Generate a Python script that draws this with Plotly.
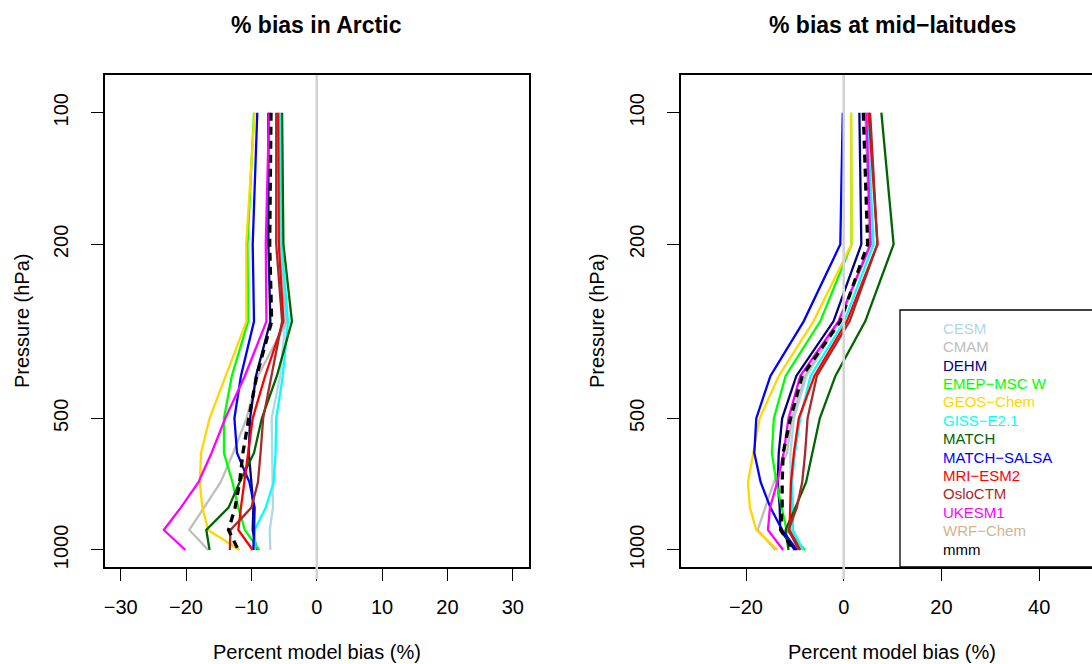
import plotly.graph_objects as go

# ---------------- data ----------------
pressure = [100, 200, 300, 400, 500, 600, 700, 800, 900, 1000]

models = ["CESM", "CMAM", "DEHM", "EMEP−MSC W", "GEOS−Chem", "GISS−E2.1", "MATCH",
          "MATCH−SALSA", "MRI−ESM2", "OsloCTM", "UKESM1", "WRF−Chem", "mmm"]
colors = ["#ADD8E6", "#BEBEBE", "#000080", "#00FF00", "#FFD700", "#00FFFF", "#006400",
          "#0000FF", "#FF0000", "#A52A2A", "#FF00FF", "#D2B48C", "#000000"]

# % bias in Arctic (one list per model, at the pressure levels)
arctic_cesm = [-5.8, -5.6, -4.8, -5.6, -6.9, -6.8, -6.7, -6.7, -7.2, -7.1]
arctic_cmam = [-5.8, -5.5, -4.6, -9.0, -10.75, -12.8, -14.7, -17.3, -19.5, -16.6]
arctic_dehm = [-7.4, -7.4, -7.1, -9.3, -10.2, -10.4, -10.0, -9.7, -9.8, -9.2]
arctic_emep = [-9.6, -10.6, -10.5, -13.0, -14.2, -14.2, -12.9, -12.0, -11.0, -8.8]
arctic_geos = [-9.5, -10.8, -10.75, -13.9, -16.4, -17.7, -17.9, -17.5, -16.6, -11.8]
arctic_giss = [-5.5, -5.4, -4.4, -5.2, -6.2, -6.3, -6.6, -7.8, -9.5, -9.4]
arctic_match = [-5.3, -5.1, -3.8, -6.1, -8.4, -9.6, -11.8, -13.5, -16.9, -16.4]
arctic_salsa = [-9.1, -9.8, -9.6, -11.6, -12.6, -12.2, -10.3, -9.5, -9.6, -9.7]
arctic_mri = [-5.9, -5.8, -5.1, -7.9, -9.8, -10.5, -11.2, -11.6, -12.0, -9.8]
arctic_oslo = [-6.2, -6.2, -5.3, -6.9, -8.2, -8.6, -9.0, -10.0, -13.2, -13.3]
arctic_ukesm = [-7.3, -7.8, -7.7, -11.0, -14.0, -16.1, -18.1, -20.8, -23.4, -20.1]
arctic_wrf = [None] * 10
arctic_mmm = [-7.0, -7.2, -6.9, -9.2, -10.4, -11.3, -11.8, -12.5, -13.5, -12.0]

# % bias at mid-latitudes
mid_cesm = [4.5, 5.5, -0.8, -7.6, -10.2, -10.9, -10.9, -10.7, -10.6, -8.6]
mid_cmam = [4.4, 5.3, -0.9, -7.9, -10.6, -11.6, -14.3, -16.0, -17.6, -14.0]
mid_dehm = [3.2, 3.6, -2.1, -9.7, -12.6, -13.3, -13.5, -13.1, -13.0, -10.0]
mid_emep = [1.5, 1.6, -4.8, -11.9, -14.3, -14.7, -13.8, -12.6, -11.7, -7.9]
mid_geos = [1.5, 1.6, -6.2, -13.3, -17.2, -18.5, -19.6, -19.2, -17.9, -13.5]
mid_giss = [4.8, 6.1, 0.1, -6.8, -8.9, -10.0, -10.6, -10.4, -10.4, -8.3]
mid_match = [7.7, 10.2, 4.4, -1.7, -4.9, -6.5, -7.7, -9.9, -11.9, -11.3]
mid_salsa = [-0.2, -0.7, -8.2, -15.0, -17.9, -18.3, -17.0, -15.0, -12.6, -9.6]
mid_mri = [5.1, 6.9, 0.65, -6.0, -9.2, -10.2, -10.8, -10.9, -11.1, -8.9]
mid_oslo = [5.4, 6.9, 1.2, -5.5, -7.4, -7.9, -8.5, -9.6, -11.3, -9.2]
mid_ukesm = [4.6, 5.5, -1.1, -8.9, -11.3, -12.3, -13.6, -15.1, -15.5, -12.4]
mid_wrf = [None] * 10
mid_mmm = [4.0, 4.9, -0.7, -8.5, -10.9, -12.4, -12.6, -12.6, -12.9, -10.3]

arctic = [arctic_cesm, arctic_cmam, arctic_dehm, arctic_emep, arctic_geos, arctic_giss,
          arctic_match, arctic_salsa, arctic_mri, arctic_oslo, arctic_ukesm, arctic_wrf, arctic_mmm]
midlat = [mid_cesm, mid_cmam, mid_dehm, mid_emep, mid_geos, mid_giss,
          mid_match, mid_salsa, mid_mri, mid_oslo, mid_ukesm, mid_wrf, mid_mmm]

x_ticks_left = [-30, -20, -10, 0, 10, 20, 30]
x_ticks_right = [-20, 0, 20, 40, 60]
y_ticks = [100, 200, 500, 1000]

# ---------------- figure ----------------
FONT = "Liberation Sans, Arial, Helvetica, sans-serif"
W, H = 1092, 664
ML, MR, MT, MB = 105, 0, 75, 97
PW, PH = W - ML - MR, H - MT - MB


def px_x(px):
    return (px - ML) / PW


def px_y(py):
    return (H - MB - py) / PH


fig = go.Figure()

for name, col, xs_a, xs_m in zip(models, colors, arctic, midlat):
    is_mmm = name == "mmm"
    line = dict(color=col, width=3.3 if is_mmm else 2.3)
    if is_mmm:
        line["dash"] = "8px,6px"
    fig.add_trace(go.Scatter(x=xs_a, y=pressure, mode="lines", line=line,
                             xaxis="x", yaxis="y", showlegend=False, name=name))
    fig.add_trace(go.Scatter(x=xs_m, y=pressure, mode="lines", line=line,
                             xaxis="x2", yaxis="y2", showlegend=False, name=name))

tickfont = dict(family=FONT, size=20, color="black")
common_x = dict(showgrid=False, zeroline=False, showline=True, linecolor="black", linewidth=1.5,
                ticks="outside", ticklen=12, tickwidth=1.4, tickcolor="black",
                tickfont=tickfont, ticklabelstandoff=9)
common_y = dict(type="log", range=[3.0389, 1.9138], showgrid=False, zeroline=False,
                showline=True, linecolor="black", linewidth=1.5,
                ticks="outside", ticklen=12, tickwidth=1.4, tickcolor="black",
                tickvals=y_ticks, ticktext=[str(v) for v in y_ticks],
                tickangle=-90, tickfont=tickfont, ticklabelstandoff=15)

fig.update_layout(
    width=W, height=H,
    margin=dict(l=ML, r=MR, t=MT, b=MB, autoexpand=False),
    paper_bgcolor="white", plot_bgcolor="white",
    showlegend=False,
    xaxis=dict(domain=[0, px_x(528.5)], range=[-32.4, 32.4], tickvals=x_ticks_left,
               mirror=True, anchor="y", **common_x),
    yaxis=dict(domain=[0, 1], anchor="x", mirror=True, **common_y),
    xaxis2=dict(domain=[px_x(681), 1], range=[-33.3, 50.8], tickvals=x_ticks_right,
                mirror=True, anchor="y2", **common_x),
    yaxis2=dict(domain=[0, 1], anchor="x2", mirror=False, **common_y),
)

# zero reference lines
for xr in ["x", "x2"]:
    fig.add_shape(type="line", xref=xr, yref="paper", x0=0, x1=0, y0=-0.025, y1=1,
                  line=dict(color="#D3D3D3", width=2.6), layer="above")

# titles
for txt, cx in [("<b>% bias in Arctic</b>", 316.5), ("<b>% bias at mid−laitudes</b>", 892)]:
    fig.add_annotation(text=txt, xref="paper", yref="paper",
                       x=px_x(cx), y=px_y(25), xanchor="center", yanchor="middle",
                       showarrow=False, font=dict(family=FONT, size=23, color="black"))

# axis titles
for cx in [316.5, 892]:
    fig.add_annotation(text="Percent model bias (%)", xref="paper", yref="paper",
                       x=px_x(cx), y=px_y(652), xanchor="center", yanchor="middle",
                       showarrow=False, font=dict(family=FONT, size=20, color="black"))
for cx in [22, 597]:
    fig.add_annotation(text="Pressure (hPa)", xref="paper", yref="paper",
                       x=px_x(cx), y=px_y(321), xanchor="center", yanchor="middle",
                       showarrow=False, textangle=-90,
                       font=dict(family=FONT, size=20, color="black"))

# legend box
fig.add_shape(type="rect", xref="paper", yref="paper", x0=px_x(900), x1=px_x(1120),
              y0=px_y(567), y1=px_y(310), line=dict(color="black", width=1.3),
              fillcolor="white", layer="above")
for i, (name, col) in enumerate(zip(models, colors)):
    fig.add_annotation(text=name, xref="paper", yref="paper", x=px_x(941),
                       y=px_y(328.3 + i * 18.4), xanchor="left", yanchor="middle",
                       showarrow=False, font=dict(family=FONT, size=15, color=col))

fig.write_html("out.html", config={"displayModeBar": False},
               post_script="document.body.style.margin='0px';")
